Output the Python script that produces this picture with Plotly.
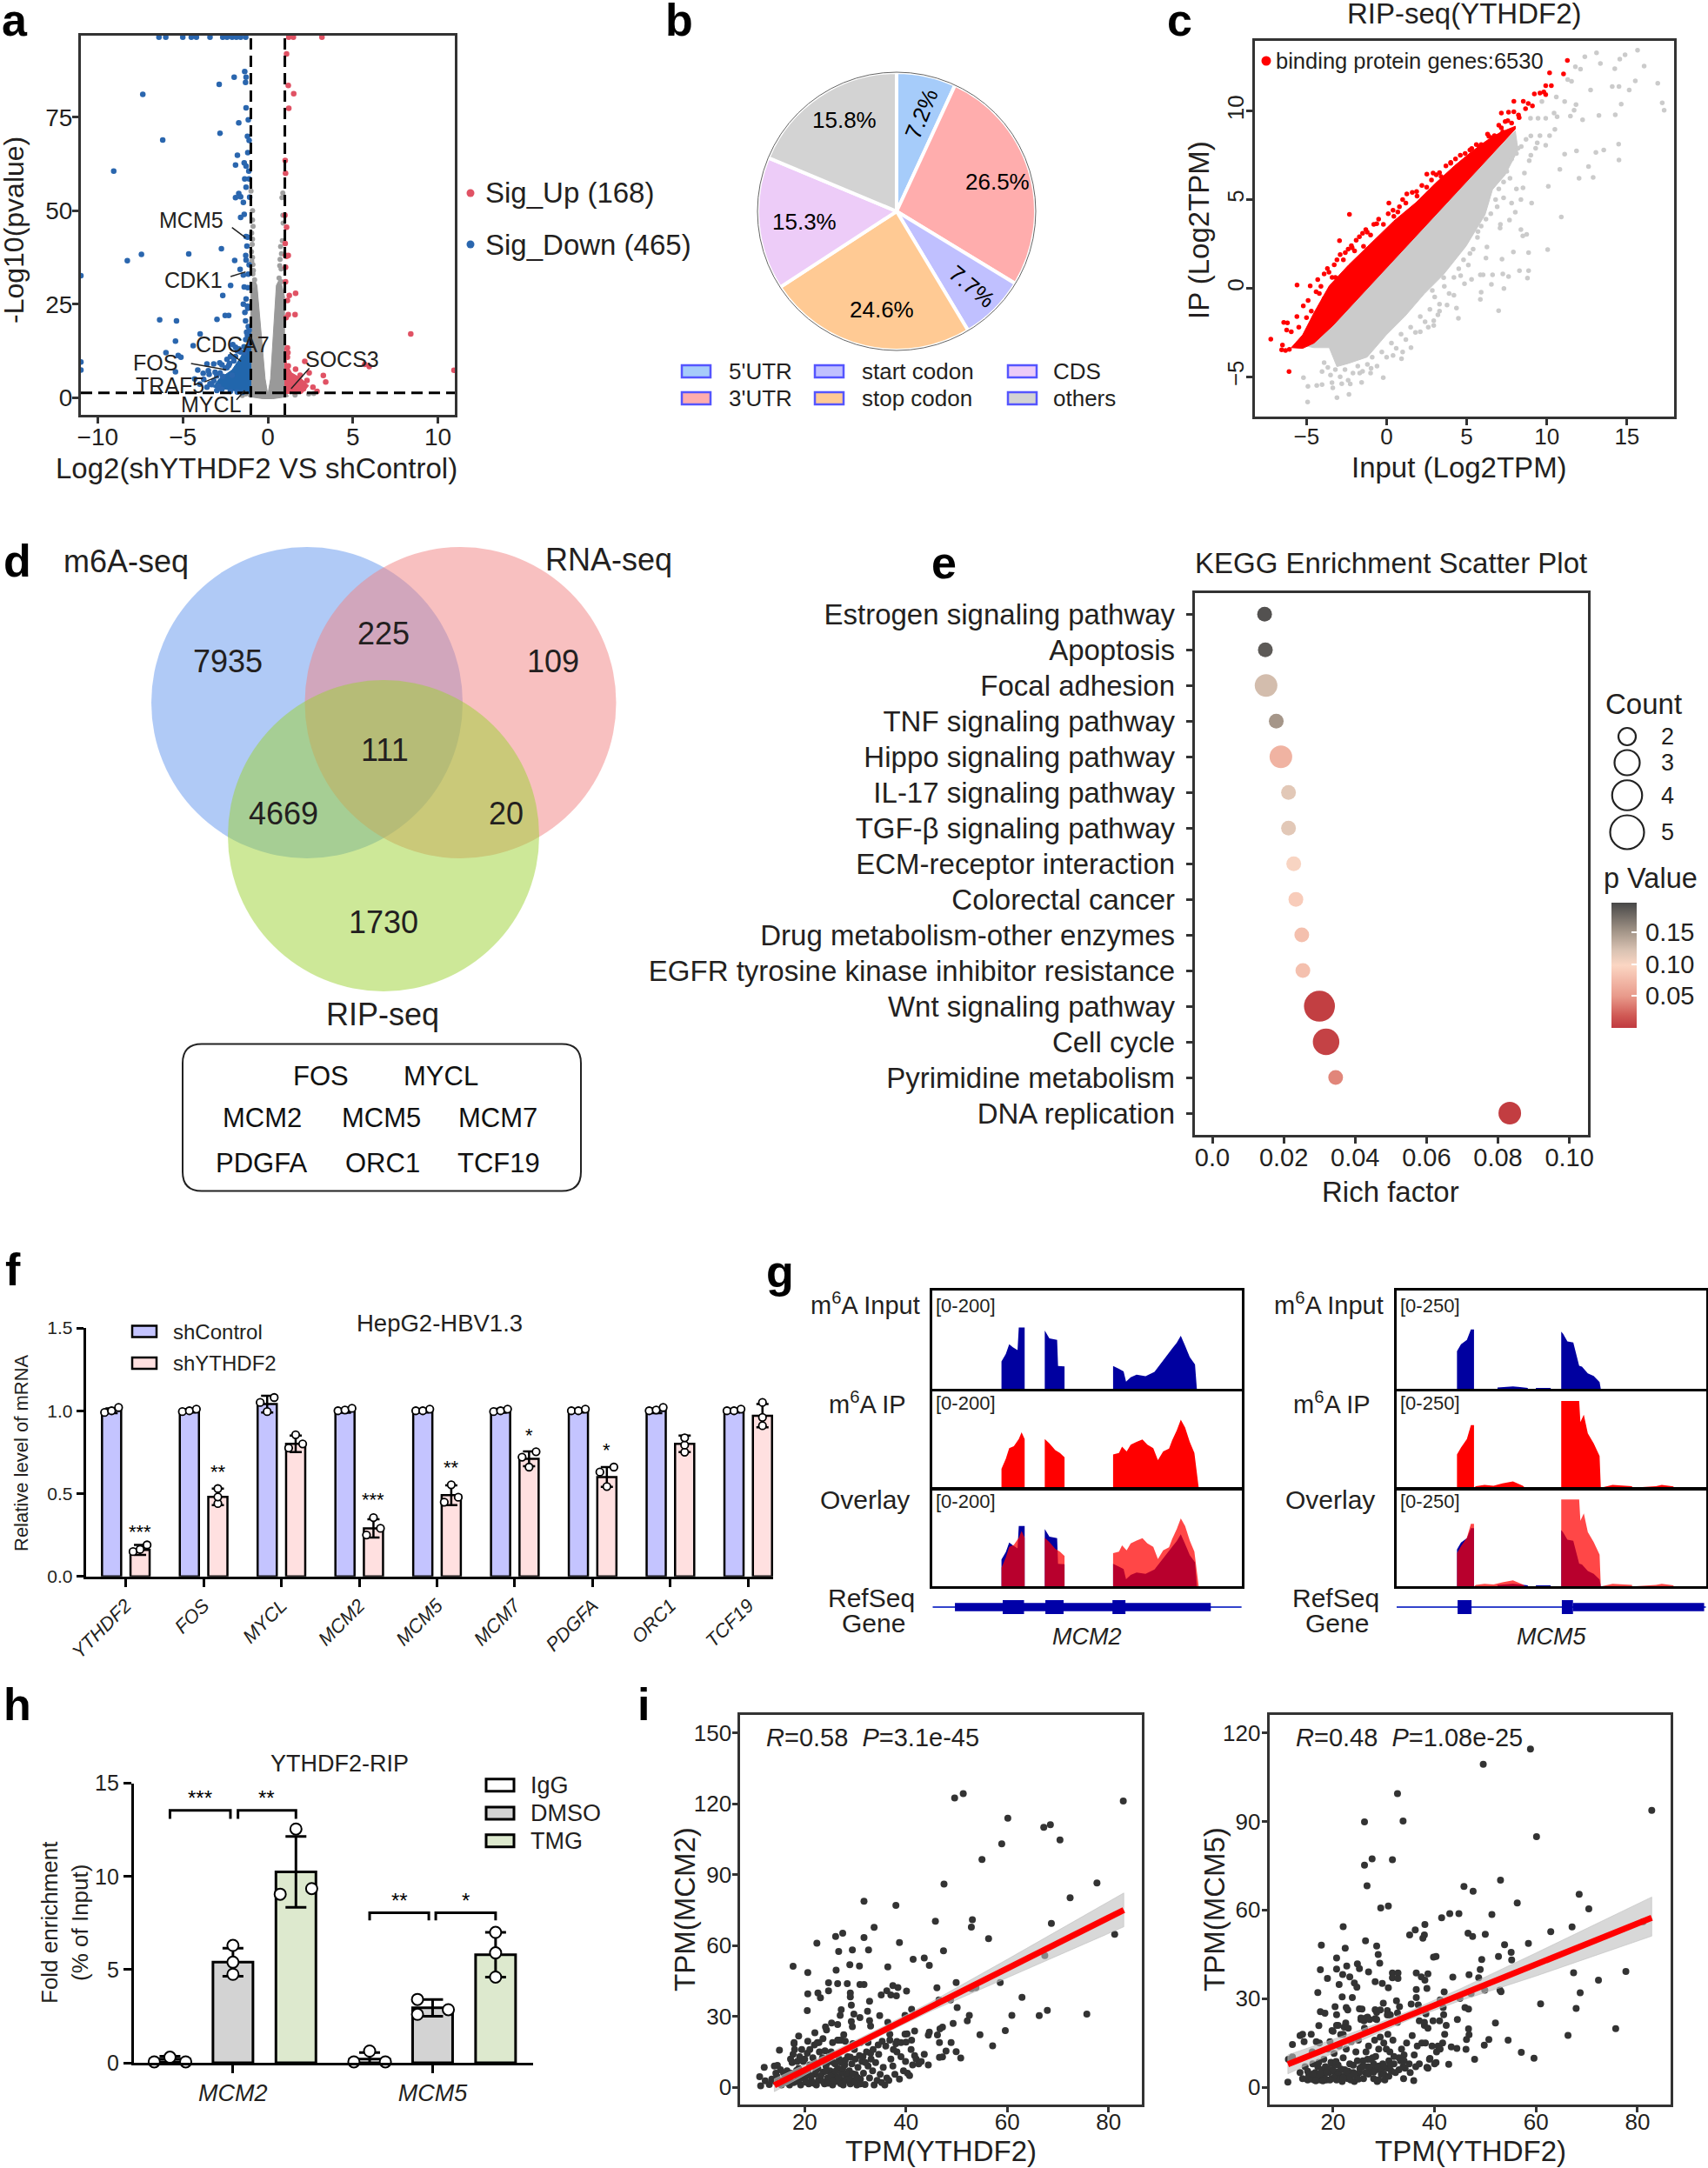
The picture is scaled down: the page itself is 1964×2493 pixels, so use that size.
import plotly.graph_objects as go

W, H = 1964, 2493
FONT = "Liberation Sans"
INK = "#231f20"
FRAME = "#333333"

# ---------- panel a ----------
a_blue = [(-1.36,87.2),(-1.98,85.7),(-1.28,85.7),(-1.31,84.3),(-2.86,83.8),(-7.35,81.1),(-1.28,77.5),(-1.15,74.3),(-1.71,73.5),(-2.81,70.7),(-1.2,69.9),(-1.1,68.8),(-6.18,68.9),(-1.18,65.5),(-1.79,64.8),(-9.06,60.6),(-1.9,62.2),(-1.39,62.8),(-1.28,61.9),(-1.12,60.6),(-1.36,58.5),(-1.1,58.5),(-1.28,56.3),(-1.71,54.6),(-1.9,53.5),(-1.6,53.7),(-1.07,53.6),(-1.44,52.2),(-1.39,49),(-1.6,48.2),(-1.28,43.1),(-1.18,42.9),(-1.23,40.5),(-2.73,39.8),(-4.65,38.4),(-7.43,38.3),(-8.26,36.6),(-1.95,36.7),(-1.28,36.8),(-1.1,35.5),(-1.63,34.3),(-1.44,32.8),(-10.99,32.6),(-2.19,30),(-1.39,29.6),(-1.18,29.4),(-2.65,27.3),(-1.28,26.4),(-1.44,25),(-1.18,23.9),(-2.51,22),(-2.3,22),(-2.99,20.9),(-6.36,20.8),(-5.37,20.5),(-1.31,20.5),(-3.98,17),(-1.1,16.7),(-5.43,15.1),(-4.39,13.9),(-2.06,14.2),(-5.99,12),(-5.27,11.3),(-5.11,10.8),(-10.99,9.5),(-10.99,7.4),(-3.58,9),(-2.83,9.3),(-3.18,9),(-5.43,6.9),(-4.12,7.4),(-2.25,9.1),(-3.45,6.2),(-3.77,4.9),(-3.58,2.8),(-3.18,4.5),(-2.65,5.7),(-6.4,96.4),(-6.0,96.4),(-5.0,96.4),(-4.5,96.4),(-4.2,96.4),(-3.4,96.4),(-2.65,96.4),(-2.4,96.4),(-2.1,96.4),(-1.85,96.4),(-1.6,96.4),(-1.3,96.4),(-1.15,33),(-1.3,38),(-1.2,24.5),(-1.35,22.8),(-1.15,19),(-1.25,17.5),(-1.4,12),(-1.8,12.5),(-2.4,8),(-2.1,6),(-3.3,3.5),(-2.9,3.1),(-1.7,13),(-3.4,3.7),(-3.0,5.8),(-2.8,6.6),(-2.5,7.9),(-2.3,8.6),(-2,9.8),(-1.9,11),(-1.6,12.2),(-1.4,13.6),(-1.3,15.5),(-1.2,16.6),(-1.1,18),(-4.0,3.6),(-4.3,5),(-3.8,6.5),(-3.5,7.2),(-3.1,6.8),(-2.7,8.8),(-2.4,10.2),(-2.2,11),(-1.9,13.5),(-2.7,2.2),(-3.0,1.9),(-2.2,1.7),(-1.8,1.5),(-1.5,1.4)]
a_red = [(1.23,96.4),(1.5,96.4),(3.18,96.4),(1.1,91.9),(1.2,83.5),(1.52,81.3),(1.23,77.4),(1.02,63.4),(1.04,60),(1.0,48.8),(1.1,45.6),(1.02,41.2),(1.04,38),(1.1,37.8),(1.2,38),(1.04,34.9),(1.04,31),(1.63,27.9),(1.26,27.3),(1.15,26),(1.6,22.2),(1.2,22.2),(1.07,21.4),(8.4,17),(5.7,8.9),(5.96,8.3),(10.94,7.3),(2.17,9.7),(1.15,13.3),(1.18,12),(1.15,10.8),(3.26,5.9),(3.4,4.2),(2.43,6.6),(1.63,7.6),(2.65,2.8),(2.89,1.7),(1.2,8.5),(1.1,7),(1.9,6),(2.3,4.6),(2.1,2.4),(1.6,1.6)]
a_gray = [(-0.99,55.2),(-0.9,50),(-0.9,47.5),(-0.87,45.8),(-0.9,42.4),(-0.96,39),(-0.88,35.6),(-0.88,33.1),(-0.78,31.5),(-0.9,30),(-0.95,36.5),(-0.9,37.5),(-0.85,34),(-0.95,44),(-0.92,41),(0.88,54.7),(0.83,53.5),(0.88,48.8),(0.9,46.7),(0.75,40.4),(0.7,35.3),(0.78,34.4),(0.8,31),(0.66,32),(0.72,37),(0.8,38.5),(0.85,42),(2.4,1.0),(2.7,1.1),(1.6,0.7),(-1.5,0.6),(-1.3,1)]
a_gray_region_x = [-1.15,-1.0,-1.0,-0.82,-0.64,-0.37,-0.16,-0.03,0.03,0.16,0.3,0.5,0.72,0.98,0.98,1.2,0.3,-0.3]
a_gray_region_y = [0.3,3,29,32,30,15,5,1.5,1.5,5,15,30,32,27,3,0.3,-0.3,-0.3]
a_blue_region_x = [-1,-3.2,-2.9,-2.1,-1.6,-1.2,-1]
a_blue_region_y = [1.1,2.8,4.9,7.4,10.8,14.2,16.7]
a_red_region_x = [1,2,2.4,1.9,1.4,1.1,1]
a_red_region_y = [1.1,1.1,3.2,5.3,6.6,9.1,13.3]
a_fc_cut = [-1, 1]
a_p_cut = 1.3

# ---------- panel b ----------
b_labels = ["5'UTR","3'UTR","start codon","stop codon","CDS","others"]
b_values = [6.9,26.8,7.7,24.4,15.5,18.7]
b_colors = ["#A6CCFA","#FFADAD","#C0C0FF","#FFCA94","#EDCCF8","#D3D3D3"]
b_text = ["7.2%","26.5%","7.7%","24.6%","15.3%","15.8%"]

# ---------- panel c ----------
c_red_x = [-5.95,-5.24,-4.53,-3.58,-2.39,-0.97,0.45,1.87,3.06,4.24,5.31,6.26,7.09,8.03,8.03,6.85,5.43,3.29,1.4,-0.5,-2.39,-3.34,-4.53,-5.24]
c_red_y = [-3.36,-2.64,-1.39,0.13,1.29,2.54,3.79,4.86,5.93,6.91,7.71,8.34,8.79,9.14,8.98,7.83,6.44,4.36,2.52,0.67,-1.17,-2.1,-3.1,-3.4]
c_gray_x = [-5,8.03,8.2,7.4,6.61,6.14,4.95,3.53,2.35,1.16,-0.02,-1.21,-2.39,-3.1,-3.58,-4.53]
c_gray_y = [-3.27,8.88,7.8,6.4,5.57,4.14,2.36,0.75,-0.32,-1.57,-2.64,-3.89,-4.25,-4.43,-3.36,-3.36]
c_red_pts = [(-7.23,-2.88),(-6.09,-4.71),(-5.59,0.18),(-2.32,4.16),(0.14,4.8),(-2.94,2.68),(1.26,5.32),(-0.62,3.64),(2.51,6.43),(11.28,12.86),(10.17,12.16),(11.04,12.09),(9.93,11.43),(10.28,11.43),(9.22,10.96),(9.57,11.02),(9.81,11.07),(9.93,10.93),(7.94,10.55),(8.53,10.55),(8.84,10.43),(9.1,10.29),(8.67,10.13),(7.16,9.89),(7.61,9.93),(7.94,9.96),(8.23,9.77),(8.27,9.63),(7.4,9.41),(7.56,9.46),(7.8,9.32),(7.16,9.05),(7.25,8.82),(6.73,8.61),(6.38,8.57),(-6.42,-1.93),(-6.19,-1.96),(-6.24,-2.37),(-5.95,-2.46),(-5.48,-2.2),(-5.0,-1.66),(-4.77,0.13),(-4.3,0.48),(-3.7,1.11),(-3.27,1.32),(-2.58,2),(-2.15,2.27),(-1.44,2.36),(-1.21,3.16),(0.45,4.05),(1.87,5.45),(3.3,6.52),(4.0,7.05),(5.31,7.89),(5.78,7.98),(-6.55,-3.48),(-6.5,-3.21),(-6.31,-3.52),(-6.07,-3.46),(-4.2,-0.3),(-3.9,-0.6),(-3.2,0.6),(-1.9,2.7),(0.8,4.6),(2.9,6.5),(-4.9,-2.4),(-5.5,-3.1),
(-5.6,-1.6),(-5.2,-1.0),(-4.9,-0.7),(-4.7,-1.3),(-4.4,-0.2),(-4.1,0.1),(-3.9,0.8),(-3.6,0.9),(-3.4,0.6),(-3.1,1.6),(-2.9,1.9),(-2.7,1.6),(-2.4,2.2),(-2.2,2.4),(-2,2.1),(-1.7,2.9),(-1.5,3.1),(-1.3,3.3),(-1,3.0),(-0.8,3.6),(-0.5,3.9),(-0.2,3.6),(0.1,4.2),(0.4,4.4),(0.7,4.3),(1,5),(1.2,4.8),(1.6,5.4),(1.9,5.2),(2.2,5.8),(2.5,5.7),(2.8,6.1),(3.1,6.4),(3.4,6.3),(3.7,6.9),(4,7.1),(4.3,7.3),(4.6,7.5),(4.9,7.6),(5.2,7.8),(5.6,8.1),(5.9,8.1),(6.3,8.7),(6.6,8.5),(7,9.2),
(-5.0,-2.9),(-4.4,-2.1),(-4.0,-1.9),(-3.5,-1.6),(-5.6,-3.2)]
c_gray_pts = [(15.66,13.43),(13.1,13.29),(12.37,13.07),(14.55,12.93),(14.88,13.18),(13.34,12.68),(11.78,12.5),(12.1,12.36),(14.24,12.39),(16.07,12.54),(11.3,11.77),(11.54,11.68),(15.52,11.7),(16.92,11.57),(14.08,11.38),(14.5,11.38),(15.14,11.18),(12.73,11.18),(10.59,10.79),(17.2,10.46),(17.32,10.04),(14.64,10.39),(11.82,10.36),(11.11,10.54),(9.69,10.54),(11.7,10.04),(11.47,9.71),(10.45,9.89),(12.23,9.5),(13.25,9.75),(14.27,9.79),(10.64,9.68),(9.93,9.59),(9.45,9.59),(8.98,9.59),(10.5,8.96),(9.57,8.61),(10.17,8.61),(14.48,8.13),(9.93,8.07),(13.55,7.8),(13.06,7.66),(11.85,7.75),(11.11,7.57),(14.5,7.23),(12.6,6.86),(12.89,6.25),(12.01,6.2),(10.81,6.7),(10.09,5.75),(8.51,5.66),(9.05,4.8),(10.9,4.02),(10.05,2.18),(8.86,2),(7.91,2.04),(7.2,1.64),(8.29,0.98),(8.86,0.98),(8.79,0.57),(7.25,0.8),(7.61,0.66),(6.61,0.75),(5.85,0.75),(6.02,0.75),(6.54,0.21),(7.32,-0.02),(5.9,-0.23),(5.85,-0.64),(6.99,-1.27),(4.48,-1.7),(4.36,-1.13),(3.77,-0.95),(3.3,-1.3),(2.94,-1.84),(2.94,-2.11),(2.1,-2.46),(1.52,-3.36),(0.93,-3.98),(-0.21,-5.05),(-0.97,-4.52),(-1.68,-4.79),(-1.56,-5.32),(-2.27,-5.41),(-2.35,-6),(-3.1,-6.18),(-4.93,-6.43),(-4.91,-5.54),(-5.19,-5.05),(-4.36,-5.5),(-4.03,-5.45),(-3.41,-5.34),(-3.36,-5.63),(-4.03,-4.71),(-3.67,-4.48),(8.38,5.0),(8.03,4.29),(7.67,3.84),(7.08,3.39),(8.38,3.3),(8.74,3.04),(8.5,2.95),(5.67,2.86),(6.26,2.32),(5.2,1.96),(4.62,0.7),(4.86,0.25),(3.56,0.59),(2.85,-0.13),(9.0,7.5),(9.4,8.2),(8.6,6.5),(8.2,7.9),(7.7,6.2),(7.3,5.1),(6.9,4.6),
(-3.9,-4.2),(-3.5,-4.9),(-3.2,-4.6),(-2.9,-5.0),(-2.6,-4.6),(-2.4,-5.2),(-2.1,-4.8),(-1.8,-4.4),(-1.5,-4.7),(-1.2,-4.3),(-0.9,-3.9),(-0.6,-4.4),(-0.3,-3.6),(0,-3.9),(0.3,-3.1),(0.6,-3.4),(0.9,-2.6),(1.2,-2.9),(1.5,-2.2),(1.8,-2.5),(2.1,-1.6),(2.4,-1.9),(2.7,-1.2),(3,-0.5),(3.3,-0.9),(3.6,0.1),(3.9,-0.3),(4.2,0.6),(4.5,1.1),(4.8,1.6),(5.1,1.3),(5.4,2.2),(5.7,3.2),(5.9,3.5),(6.2,3.9),(6.5,4.2),(6.8,5),(7,5.6),(7.3,6),(7.5,6.6),(7.8,7.3),(8.1,7.6),(8.4,8.0),(8.7,8.4),(9,8.6),(8.9,7.2),(9.3,7.9),(3.2,-1.5),(2.6,-2.2),(1.0,-3.6),(-1.0,-4.8),(-2.8,-5.4),(0.4,-3.8),(4.2,-0.4),(5.3,0.5),(6.2,1.7),(7.1,3.6),(7.8,4.8),(8.1,5.6)]

# ---------- panel d ----------
d_counts = ["7935","225","109","111","4669","20","1730"]
d_sets = ["m6A-seq","RNA-seq","RIP-seq"]
d_genes = ["FOS","MYCL","MCM2","MCM5","MCM7","PDGFA","ORC1","TCF19"]

# ---------- panel e ----------
e_terms = ["Estrogen signaling pathway","Apoptosis","Focal adhesion","TNF signaling pathway","Hippo signaling pathway","IL-17 signaling pathway","TGF-β signaling pathway","ECM-receptor interaction","Colorectal cancer","Drug metabolism-other enzymes","EGFR tyrosine kinase inhibitor resistance","Wnt signaling pathway","Cell cycle","Pyrimidine metabolism","DNA replication"]
e_rich = [0.01464,0.01485,0.01505,0.0179,0.0192,0.02134,0.02134,0.0228,0.0234,0.02505,0.02536,0.0300,0.03186,0.03454,0.0833]
e_count = [2,2,3,2,3,2,2,2,2,2,2,5,4,2,3]
e_pval = [0.19,0.185,0.125,0.15,0.07,0.115,0.115,0.10,0.09,0.08,0.08,0.003,0.005,0.04,0.002]
e_size_by_count = {2:17,3:26,4:30.5,5:35.6}

# ---------- panel f ----------
f_genes = ["YTHDF2","FOS","MYCL","MCM2","MCM5","MCM7","PDGFA","ORC1","TCF19"]
f_ctrl = [1.0,1.0,1.04,1.0,1.0,1.0,1.0,1.0,1.0]
f_sh = [0.16,0.48,0.80,0.29,0.49,0.71,0.60,0.80,0.97]
f_ctrl_err = [0.015,0.01,0.05,0.012,0.01,0.012,0.01,0.015,0.01]
f_sh_err = [0.03,0.05,0.05,0.055,0.06,0.045,0.06,0.05,0.07]
f_ctrl_dots = [[0.99,1.0,1.02],[0.995,1.0,1.01],[1.05,0.995,1.08],[1.0,1.005,1.015],[1.0,1.0,1.01],[0.995,1.0,1.01],[1.0,1.0,1.01],[1.0,1.005,1.02],[1.0,1.0,1.01]]
f_sh_dots = [[0.15,0.163,0.19],[0.44,0.48,0.53],[0.775,0.855,0.80],[0.25,0.355,0.29],[0.448,0.553,0.478],[0.72,0.66,0.753],[0.63,0.543,0.66],[0.75,0.793,0.837],[0.91,0.96,1.05]]
f_stars = ["***","**","","***","**","*","*","",""]
f_star_y = [0.20,0.56,0,0.39,0.585,0.78,0.69,0,0]

# ---------- panel g ----------
mcm2_input_x = [22.3,22.3,23.7,24.8,26,27.5,27.9,29.8,29.8,36.3,36.3,37.8,40.3,40.6,42.7,42.7,58.4,58.4,60.3,61.8,62.6,64.1,66,68.9,71.8,74.6,77.5,79,80.3,81.7,83.2,84.9,85.5]
mcm2_input_y = [0,56,71,91,85,79,125,125,0,0,119,103,100,47,46,0,0,47,41,36,15,24,29,26,35,59,82,94,108,88,65,50,0]
mcm2_ip_x = [22.3,22.3,23.7,24.8,26.3,27.9,28.8,29.8,29.8,36.3,36.3,37.8,39.7,41.2,42.7,42.7,58.4,58.4,60.3,61.3,62.8,64.1,66,67.9,69.5,71.4,72.9,74.6,76.5,77.5,79,80.3,81.7,83.2,84.7,85.7,86.1]
mcm2_ip_y = [0,39,60,82,86,101,115,101,0,0,101,92,78,72,63,0,0,69,72,85,75,89,95,100,89,82,57,75,81,98,119,141,125,95,72,19,0]
mcm5_input_x = [19.5,19.5,20.8,22.7,24,25,25,32.6,32.6,35.1,37.6,39.9,42.4,42.4,45,45,49.8,49.8,53.2,53.2,53.8,55.2,57.1,59,59.9,61.8,63.7,65.6,66]
mcm5_input_y = [0,96,114,125,151,151,0,0,4,5,7,5,3,0,0,3,3,0,0,146,140,121,118,59,57,40,33,18,0]
mcm5_ip_x = [19.5,19.5,20.8,22.7,24,25,25,25.6,28.4,31.3,34.2,37.6,40.8,41.5,53.2,53.2,59,59.4,60.5,61.8,63.7,65.6,66,69.8,76.1,76.1,83.8,85.7,89.5,89.5]
mcm5_ip_y = [0,86,104,126,162,162,0,4,7,5,11,16,5,0,0,225,225,170,189,141,115,82,0,7,4,0,4,7,3,0]
mcm2_exons = [22.7,29.6,36.5,42.4,58.2,62.4]
mcm2_utr = [7.25,90]
mcm5_exons = [19.7,24.2,53.4,57]
mcm5_utr = [57,99.4]

# ---------- panel h ----------
h_groups = ["MCM2","MCM5"]
h_labels = ["IgG","DMSO","TMG"]
h_colors = ["#FFFFFF","#D3D3D3","#DDE9CE"]
h_pos = [0,1,2,3.17,4.17,5.17]
h_vals = [0.2,5.4,10.25,0.2,2.95,5.8]
h_err = [0.15,0.75,1.9,0.35,0.45,1.2]
h_dots = [[0.05,0.3,0.05],[6.3,5.4,4.75],[12.55,9.05,9.35],[0.05,0.63,0.05],[3.4,2.6,2.85],[7.0,5.9,4.6]]
h_dot_dx = [[-0.25,0,0.25],[0,0,0],[0,-0.25,0.25],[-0.25,0,0.25],[-0.24,-0.24,0.25],[0,0,0]]

# ---------- panel i ----------
i1_pts = [(49.6,122.5),(51.3,124.4),(82.9,121.2),(60.1,114),(67.2,110.1),(68.5,111.2),(70.4,104.8),(58.9,103.1),(55,96.5),(47.5,86.1),(77.7,86.5),(72.4,80.3),(31.7,78.8),(38,77.1),(53.1,71),(45.8,70.3),(68.7,69.4),(52.9,67.9),(33.7,67.8),(27.5,65.3),(26.1,63.9),(31.7,63.4),(56.3,63),(81.2,64.8),(22.4,61),(38.7,61.3),(29.4,58.2),(32.6,58.2),(26.7,57.5),(47.4,57.8),(67.4,55.8),(41.4,54.2),(43.6,54.8),(44.6,51.7),(17.7,51.3),(28.9,51.9),(30.8,51.4),(36.4,51),(26.2,49.6),(20.6,48.6),(24.7,44.3),(26.5,43.9),(28.4,43.9),(30.9,43.6),(31.7,43.6),(49.9,44.4),(58.6,44.4),(37.4,43.1),(38.4,42.3),(46.1,42.2),(52.9,41.8),(53.8,42.2),(24.7,40.9),(22.6,40),(29,40),(36.2,40.9),(40.1,40.8),(20.6,39.6),(35.1,39.1),(37,39.1),(38.1,38.8),(29,38.3),(23.1,37.9),(62.9,38.1),(48.8,37),(32.8,36.5),(46.5,37),(29.2,34.8),(50.1,33.8),(41.1,33.1),(27.2,32.9),(20.5,32.5),(32.4,32.2),(67.9,32.6),(75.7,31),(29.7,31),(27,30.5),(34.8,30.4),(39.8,30.5),(52.5,30.5),(60.9,30.5),(66.3,30.4),(30.9,29.6),(32.8,28.3),(36.4,27.5),(29.2,27.9),(25.3,27.3),(52.1,28.2),(49.3,27.1),(26.5,26.6),(29.4,25.7),(33,26),(24.1,25.6),(47.2,25.5),(46.7,24.8),(24.3,24.3),(41.7,23.9),(22,23.1),(59.6,24),(44.6,23.4),(54.6,22.3),(36.8,22.5),(39.8,22.6),(40.2,22.7),(44.4,22.1),(46.2,22.2),(18.8,21.7),(27.7,22.3),(23.6,20.6),(35.3,19.5),(38.2,19.4),(26.5,20),(27.2,20),(41.1,20),(46.6,19),(48.9,19),(17.9,19),(20.6,19.5),(22.8,19),(57.1,17.6),(49.9,15.1),(47.9,15.4),(50.8,12.4),(46.6,12.7),(47.2,12.9),
(11.1,4.5),(11.3,0.7),(12,8.5),(12.2,2.8),(13.5,3.5),(13,1.2),(14,9),(14.3,6),(14.6,9.3),(14.2,2.5),(14.5,4.7),(15,15.8),(15.2,7.5),(15.6,3),(15.4,1),(16,5.5),(16.2,2),(16.5,7),(16.8,3.5),(17,1),(17.2,12),(17.5,10.5),(17.7,14),(17.9,18.5),(18,16),(18.2,5),(18.5,2.5),(18.8,8),(19,13),(19.2,1),(19.4,16),(19.7,11),(20,4),(20.3,7),(20.5,14.5),(20.8,1.5),(21,9.5),(21.3,3),(21.6,12.5),(21.9,18),(22,5.5),(22.3,1),(22.6,8),(22.9,15),(23,3.5),(23.3,11),(23.6,6.5),(23.9,1.5),(24.2,9),(24.5,4),(24.8,13),(25,7),(25.2,15),(25.5,1),(25.7,10.5),(26,5),(26.2,2.5),(26.5,8),(26.8,12),(27,3.5),(27.3,6),(27.6,1),(27.9,9.5),(28.2,4.5),(28.5,13),(28.8,7),(29,1.5),(29.3,10),(29.5,3),(29.8,16),(30,5.5),(30.3,1),(30.5,8.5),(30.8,13.5),(31,3.5),(31.3,11),(31.6,6),(31.9,1.2),(32.2,15),(32.5,9),(32.8,4),(33.1,12),(33.4,7),(33.7,1),(34,10.5),(34.3,3),(34.6,14),(34.9,5.5),(35.2,2),(35.5,8.5),(35.8,1),(36.2,4),(36.6,3),(37,12),(37.4,9),(37.8,5.5),(38.2,15),(38.7,3.5),(39,13),(39.5,7),(39.9,11),(40.3,6),(40.7,5),(41,16),(41.3,9.5),(41.7,13.5),(42,12),(42.5,10),(43,11),(43.6,14),(44.4,9.5),
(15.8,6.2),(16.4,4.2),(17.3,6),(17.8,2),(18.4,7.2),(19,3.5),(19.6,5.8),(20.2,2.2),(20.7,6.2),(21.2,4.8),(21.8,1.8),(22.2,7),(22.7,3),(23.2,5),(23.7,2.3),(24.1,6.8),(24.6,1.8),(25.1,4.8),(25.6,3),(26.1,6.8),(26.6,4.2),(27.1,1.6),(27.5,7.8),(28,2.8),(28.4,6),(28.9,3.5),(29.4,5.8),(29.9,2.2),(30.4,4.2),(31,1.5),(22,10.5),(23.5,12.5),(24.5,10.5),(26,10),(27.2,10.5),(28,11.5),(29,12.8),(30,12),(31.5,13),(32,10.5),(33,14.5),(18.5,11),(20,12),(21,16),(22.5,19),(24,15.5),(25.5,19),(26.7,20),(28,19.5),(29.5,18.5),(31,19),(32.5,19),(33.5,16),(34.5,18),(36,17.5),(36.8,20),(37.5,16),(38,18.5),(39,19),(40,19.2)]
i1_fit_x = [14,83]
i1_fit_y = [0.9,75.1]
i1_band_x = [14,25,35,45,60,83,83,60,45,35,25,14]
i1_band_y = [3.6,14.6,25.2,36.2,54.2,82.3,68,46.6,32.4,22,11,-1.8]

i2_pts = [(58.9,114.5),(49.6,109.3),(32.7,99.4),(82.8,93.7),(26.2,89.8),(33.8,90.1),(60.1,84.8),(27.7,77.3),(31.7,77),(26.2,75.2),(26.7,68.2),(45.8,68),(47.6,66.4),(53,70.1),(68.5,65.3),(56.3,62.4),(29.4,60.7),(30.9,61.4),(70.4,60.4),(51.3,58.5),(43,58.8),(44.8,58.8),(41.4,57.4),(81.1,56.1),(22,54.4),(38.1,55.1),(36.2,53.3),(35.1,51.6),(46.6,52.2),(47.5,51.1),(50,51.8),(38,51.6),(37.7,50.5),(62.9,52.7),(67.1,54.3),(26.4,49.6),(17.7,48.1),(22.4,47.1),(28.6,47.8),(53.8,48.3),(58.5,48.7),(55.1,45.7),(28.9,45),(52.6,44.3),(20.7,43.8),(39.8,44.1),(40.3,44.3),(49.3,43.3),(55.2,43.1),(29.2,42),(24.8,41.8),(22.7,41.1),(25.2,40.2),(20.7,40),(17.5,39.8),(49,39.9),(27,39.1),(67.4,38.8),(77.7,39.2),(31.7,38.7),(32.8,38.7),(36.4,38.7),(38.7,38.4),(21.9,38.2),(46.8,38.1),(37.4,37.4),(23.3,37.4),(43.6,37.3),(48.7,37.1),(18.9,36.9),(31.7,37.1),(32.8,36.9),(38.1,36.3),(72.3,36.3),(28.3,35.8),(29.7,35.2),(24.2,35.3),(21.2,34.8),(24.7,33.9),(30.9,33.7),(36.4,33.1),(38.5,33.5),(49.9,32.9),(52.9,32.9),(53.1,32.4),(17,32.1),(41.9,32.3),(68.7,32),(47.2,31.7),(21.8,30.6),(23.8,30.4),(36.4,30.4),(45,30.1),(41.1,29.6),(32.5,29.3),(29.9,28.5),(60.9,28.3),(35.4,28.2),(36.8,27.9),(20.4,27.3),(33.1,27.3),(22.6,27),(22.9,26.2),(25.2,26.6),(25.7,26.5),(46,27),(46.7,26.5),(67.9,26.7),(41.7,27),(28.3,26.3),(29.3,26.2),(28.6,25.4),(17.5,25.6),(18.4,25.1),(30.7,26),(30.9,24.9),(32.7,25.2),(20.7,24.6),(38.3,24.9),(41.8,24.6),(25.5,23.5),(26.5,23.5),(26.8,23.8),(26.1,22.5),(28.3,23.3),(28.6,23),(30.7,24.5),(31.3,24.5),(37,22.5),(38,21),(38.7,20),(39.7,22.5),(41,22.5),(42.3,21),(44.5,23),(52,21.8),(75.7,19.9),(17.2,20.9),(20.7,21),(19.8,19.2),(22.5,21.8),(22.2,20.4),(21.5,17.9),(46.7,19.8),(46.8,17.8),(46.3,16.2),(50.7,16.2),(49.8,14.3),(54.5,16),(66.3,17.6),(57.1,11.9),(59.6,9.9),(47.9,9.5),(46.2,12.9),(44.4,13.2),(43.3,13.7),(42.8,7.8),(40.3,8.4),(39.1,9.8),(38.5,6.8),(35.9,2.3),(33.9,3),
(11.1,1.8),(11.2,9.5),(12,14.5),(12,10.3),(13.5,17.5),(14,18),(14.3,15.5),(13.5,5),(14,3),(14.5,7),(15,2.5),(15,5.5),(15.5,3.5),(15.7,18),(15.9,12),(16,8),(16.3,2.5),(16.5,5),(16.7,15.5),(17,7),(17,3),(17.3,15),(17.5,2.5),(17.8,6),(18,4),(18.2,9.5),(18.5,7),(18.7,2.5),(19,13),(19.2,5),(19.4,15.5),(19.7,3),(20,19),(20,8),(20.2,11.5),(20.4,5),(20.7,2.5),(21,21),(21,7.5),(21.2,14),(21.5,4),(21.8,2),(22,10),(22,18),(22.3,6),(22.6,13),(22.9,3),(23,20),(23.3,8),(23.6,15.5),(24,5),(24.2,2),(24.5,12),(24.8,9),(25,16),(25.2,5),(25.5,23),(25.7,7),(26,3),(26.2,20),(26.5,12),(26.8,9.5),(27,14),(27.2,23),(27.5,6),(27.8,10),(28,3),(28.2,16),(28.5,6),(28.7,2),(29,13),(29.3,17),(29.5,4.5),(29.8,8),(30,15),(30.2,2.5),(30.5,13),(30.8,18),(31,9),(31.2,12),(31.5,5.5),(31.8,16),(32,8),(32.3,5),(32.7,22),(33,10),(33.3,9),(33.5,13),(33.8,7),(34,11),(34.2,6.5),(34.5,15),(35,8),(35.2,5),(35.6,17.5),(36,11),(36.3,7),(36.6,14),(37,8),(37.5,15),(38,22),(38.2,15),(38.7,6.5),(39,9.5),(39.5,14),(40,8),(40.4,12),(40.7,14),(41.1,13),(41.6,15),(42,18),
(15.2,4),(15.8,2.8),(16.8,3.8),(17.6,4.8),(18.4,3),(19,6.5),(19.6,8.5),(20.3,3.5),(21,5.2),(21.6,6.2),(22.4,4),(23,5.5),(23.5,2.5),(24,7.5),(24.7,3.5),(25.3,6.5),(25.9,9),(26.4,5),(26.9,7),(27.4,9.5),(28,8),(28.4,10.5),(29,7.2),(29.6,6),(30,4.5),(30.7,6.5),(31.3,7.5),(32,10.5),(33,6),(34,9),(16,4.5),(16.6,2.2),(17.2,8.5),(18,2.2),(18.8,5),(19.4,2.5),(20,6),(20.6,8.8),(21.3,2.8),(22,3.2),(22.7,5.2),(23.3,3.4),(24.2,4.4),(25,2.8),(26,7.2),(27,4.5),(28,5.2),(29,2.6),(30,7.4),(31,3.8)]
i2_fit_x = [11.1,82.8]
i2_fit_y = [7.8,57.4]
i2_band_x = [11.1,25,35,45,60,82.8,82.8,60,45,35,25,11.1]
i2_band_y = [11,19.2,25.8,33.3,45.5,64.4,51.2,37.7,29.3,22.9,15.5,4.6]

# ---------- helpers ----------
fig = go.Figure()
annos, shapes, layout_axes = [], [], {}
n_axes = 0

def T(x, y, text, size=26, color=INK, angle=0, anchor="center", bold=False, valign="middle"):
    annos.append(dict(x=x/W, y=1-y/H, xref="paper", yref="paper", text=("<b>%s</b>" % text) if bold else text,
                      showarrow=False, font=dict(size=size, color=color, family=FONT), textangle=angle,
                      xanchor=anchor, yanchor=valign, borderpad=0, borderwidth=0))

def seg(x0, y0, x1, y1, color="#222222", w=1.5):
    shapes.append(dict(type="line", xref="paper", yref="paper", x0=x0/W, x1=x1/W, y0=1-y0/H, y1=1-y1/H,
                       line=dict(color=color, width=w)))

def box(x0, y0, x1, y1, fill, line="black", w=2.5):
    shapes.append(dict(type="rect", xref="paper", yref="paper", x0=x0/W, x1=x1/W, y0=1-y0/H, y1=1-y1/H,
                       fillcolor=fill, line=dict(color=line, width=w)))

def circ(cx, cy, r, fill="rgba(0,0,0,0)", line="rgba(0,0,0,0)", w=0):
    shapes.append(dict(type="circle", xref="paper", yref="paper", x0=(cx-r)/W, x1=(cx+r)/W,
                       y0=1-(cy+r)/H, y1=1-(cy-r)/H, fillcolor=fill, line=dict(color=line, width=w)))

def axes(l, r, t, b, xr, yr, xopt=None, yopt=None, framed=True, lw=3):
    global n_axes
    n_axes += 1
    s = "" if n_axes == 1 else str(n_axes)
    base = dict(showgrid=False, zeroline=False, showline=True, linecolor=FRAME if framed else "black",
                linewidth=lw, mirror=framed, ticks="outside", ticklen=7, tickwidth=2.5,
                tickcolor=FRAME if framed else "black",
                tickfont=dict(size=26, color=INK, family=FONT))
    xa = dict(base); xa.update(domain=[l/W, r/W], range=xr, anchor="y"+s); xa.update(xopt or {})
    ya = dict(base); ya.update(domain=[1-b/H, 1-t/H], range=yr, anchor="x"+s); ya.update(yopt or {})
    layout_axes["xaxis"+s] = xa
    layout_axes["yaxis"+s] = ya
    return dict(xaxis="x"+s, yaxis="y"+s)

def unz(pts):
    return [p[0] for p in pts], [p[1] for p in pts]

def dots(ax, pts, color, size, **kw):
    x, y = unz(pts)
    fig.add_trace(go.Scatter(x=x, y=y, mode="markers", marker=dict(color=color, size=size, line=dict(width=0)), **ax, **kw))

def region(ax, x, y, color):
    fig.add_trace(go.Scatter(x=x+x[:1], y=y+y[:1], mode="lines", fill="toself", fillcolor=color,
                             line=dict(width=1, color=color), **ax))

# panel letters
for ch, x, base in [("a",2,40),("b",765,40),("c",1342,40),("d",4,662),("e",1071,664),("f",6,1477),("g",881,1479),("h",4,1977),("i",733,1977)]:
    T(x, base-17, ch, size=52, color="black", anchor="left", bold=True)

# ---------- a ----------
TF28 = dict(size=28, color=INK, family=FONT)
ax = axes(93, 523, 41, 477, [-10.99,10.99], [-4.6,96.8],
          xopt=dict(tickvals=[-10,-5,0,5,10], tickfont=TF28, ticklabelstandoff=-9),
          yopt=dict(tickvals=[0,25,50,75], tickfont=TF28, ticklabelstandoff=-6))
region(ax, a_gray_region_x, a_gray_region_y, "#999999")
region(ax, a_blue_region_x, a_blue_region_y, "#2166ac")
region(ax, a_red_region_x, a_red_region_y, "#e05264")
dots(ax, a_gray, "#a0a0a0", 6)
dots(ax, a_blue, "#2a66ae", 6.5)
dots(ax, a_red, "#e05264", 6.5)
for cut in a_fc_cut:
    fig.add_trace(go.Scatter(x=[cut,cut], y=[-4.6,96.8], mode="lines", line=dict(color="black", width=3, dash="13px,7px"), **ax))
fig.add_trace(go.Scatter(x=[-10.99,10.99], y=[a_p_cut,a_p_cut], mode="lines", line=dict(color="black", width=3, dash="13px,7px"), **ax))
T(295, 539, "Log2(shYTHDF2 VS shControl)", 33)
T(16, 265, "-Log10(pvalue)", 32, angle=-90)
for t, x, y in [("MCM5",220,253),("CDK1",222,322),("CDCA7",267,396),("SOCS3",393,413),("FOS",178,417),("TRAF5",195,443),("MYCL",243,465)]:
    T(x, y, t, 25)
for z in [(510,720,540,752),(507,875,540,860),(505,1115,530,1143),(420,1150,497,1170),(450,1208,480,1190),(520,1265,538,1235),(680,1165,640,1230)]:
    seg(z[0]/1.912, z[1]/2.751, z[2]/1.912, z[3]/2.751)
circ(541, 222, 4.5, fill="#e05264")
circ(541, 281, 4.5, fill="#2a66ae")
T(558, 222, "Sig_Up (168)", 33, anchor="left")
T(558, 281, "Sig_Down (465)", 33, anchor="left")

# ---------- b ----------
PCX, PCY, PR = 1031, 243, 160
fig.add_trace(go.Pie(values=b_values, labels=b_labels, sort=False, direction="clockwise", rotation=0,
                     marker=dict(colors=b_colors, line=dict(color="white", width=4)), textinfo="none",
                     hole=0, domain=dict(x=[(PCX-PR)/W,(PCX+PR)/W], y=[1-(PCY+PR)/H,1-(PCY-PR)/H]),
                     showlegend=False))
circ(PCX, PCY, PR, line="#666666", w=1)
for txt, x, y, ang in zip(b_text, [1059.6,1146.5,1117,1014,925,970.7], [131,209,329,356,255,138], [-68,0,40,0,0,0]):
    T(x, y, txt, 26, color="black", angle=ang)
for i, (lab, col) in enumerate(zip(b_labels, b_colors)):
    col_i, row = i//2, i%2
    px0 = [784,937,1159][col_i]; tx = [837.5,990.7,1211][col_i]
    yy = [427,458][row]
    box(px0, yy-7, px0+33, yy+7, col, line="#5555ff", w=2.5)
    T(tx, yy, lab, 26, anchor="left")

# ---------- c ----------
ax = axes(1443, 1925, 47, 479, [-8.22,17.94], [-7.25,13.96],
          xopt=dict(tickvals=[-5,0,5,10,15], ticklabelstandoff=-9),
          yopt=dict(tickvals=[-5,0,5,10], tickangle=-90, ticklabelstandoff=-7))
region(ax, c_gray_x, c_gray_y, "#cbcbcb")
dots(ax, c_gray_pts, "#cbcbcb", 5.5)
region(ax, c_red_x, c_red_y, "#ff0000")
dots(ax, c_red_pts, "#ff0000", 5.5)
T(1684, 15, "RIP-seq(YTHDF2)", 33)
T(1678, 537, "Input (Log2TPM)", 33)
T(1378, 265, "IP (Log2TPM)", 33, angle=-90)
circ(1456, 70, 5.5, fill="#ff0000")
T(1467, 70, "binding protein genes:6530", 25.5, anchor="left")

# ---------- d ----------
circ(353, 808, 179, fill="rgba(97,149,237,0.5)")
circ(529.5, 808, 179, fill="rgba(241,129,129,0.5)")
circ(441, 961, 179, fill="rgba(155,209,49,0.5)")
for t, x, y in zip(d_counts, [262,441,636,442,326,582,441], [760,728,760,862,935,935,1060]):
    T(x, y, t, 36)
for t, x, y in zip(d_sets, [145,700,440], [645,644,1167]):
    T(x, y, t, 36)
bx0, by0, bx1, by1, rr = 210, 1200.5, 668, 1369.6, 22
px_ = lambda v: v/W
py_ = lambda v: 1-v/H
shapes.append(dict(type="path", xref="paper", yref="paper", line=dict(color="#222222", width=2),
    path=(f"M {px_(bx0+rr)} {py_(by0)} L {px_(bx1-rr)} {py_(by0)} Q {px_(bx1)} {py_(by0)} {px_(bx1)} {py_(by0+rr)} "
          f"L {px_(bx1)} {py_(by1-rr)} Q {px_(bx1)} {py_(by1)} {px_(bx1-rr)} {py_(by1)} "
          f"L {px_(bx0+rr)} {py_(by1)} Q {px_(bx0)} {py_(by1)} {px_(bx0)} {py_(by1-rr)} "
          f"L {px_(bx0)} {py_(by0+rr)} Q {px_(bx0)} {py_(by0)} {px_(bx0+rr)} {py_(by0)} Z")))
for t, x, y in zip(d_genes, [369,507,301,438,572,300,440,573], [1237,1237,1285,1285,1285,1337,1337,1337]):
    T(x, y, t, 31, color="#111111")

# ---------- e ----------
ax = axes(1373.7, 1826, 681.7, 1304.6, [-0.00495,0.1052], [14.6,-0.6],
          xopt=dict(tickvals=[0,0.02,0.04,0.06,0.08,0.10], ticktext=["0.0","0.02","0.04","0.06","0.08","0.10"],
                    ticklabelstandoff=-8, tickfont=dict(size=29, color=INK, family=FONT)),
          yopt=dict(tickvals=list(range(15)), ticktext=e_terms, ticklabelstandoff=6,
                    tickfont=dict(size=33, color=INK, family=FONT)))
e_scale = [[0,"#c03a3f"],[0.1,"#d05a55"],[0.25,"#e8998a"],[0.5,"#fbd6c3"],[0.62,"#d9c2b2"],[0.77,"#a39588"],[1,"#474747"]]
fig.add_trace(go.Scatter(x=e_rich, y=list(range(15)), mode="markers",
    marker=dict(size=[e_size_by_count[c] for c in e_count], color=e_pval, cmin=0, cmax=0.196, colorscale=e_scale,
                opacity=1, line=dict(width=0),
                colorbar=dict(x=1853/W, xanchor="left", y=1-1038/H, yanchor="top", len=144, lenmode="pixels",
                              thickness=28.6, thicknessmode="pixels", xpad=0, ypad=0, outlinewidth=0,
                              tickvals=[0.05,0.10,0.15], showticklabels=False, ticks="inside",
                              tickcolor="white", ticklen=6, tickwidth=1.5)), **ax))
for t, y in zip(["0.15","0.10","0.05"], [1072,1109,1145]):
    T(1892, y, t, 29, anchor="left")
T(1599, 648, "KEGG Enrichment Scatter Plot", 33)
T(1599, 1370, "Rich factor", 33)
T(1890, 809, "Count", 33)
T(1898, 1010, "p Value", 32.5)
for c, y, d in zip([2,3,4,5], [847,877,914.5,957], [20,29,34.5,39]):
    circ(1871, y, d/2, line="#222222", w=2.2)
    T(1917, y, str(c), 27)

# ---------- f ----------
ax = axes(98.7, 889, 1527, 1812.7, [-0.514,8.32], [0,1.5], framed=False,
          xopt=dict(tickvals=list(range(9)), ticktext=["<i>%s</i>" % g for g in f_genes], tickangle=-45,
                    tickfont=dict(size=22, color=INK, family=FONT), ticklen=9),
          yopt=dict(tickvals=[0,0.5,1.0,1.5], ticktext=["0.0","0.5","1.0","1.5"], ticklen=8,
                    tickfont=dict(size=21, color=INK, family=FONT)))
idx = list(range(9))
OFF = 0.183
fig.add_trace(go.Bar(x=[i-OFF for i in idx], y=f_ctrl, width=0.246, marker=dict(color="#C4C4FF", line=dict(color="black", width=2.5)),
                     error_y=dict(type="data", array=f_ctrl_err, color="black", thickness=2.5, width=7), **ax))
fig.add_trace(go.Bar(x=[i+OFF for i in idx], y=f_sh, width=0.246, marker=dict(color="#FFE0E0", line=dict(color="black", width=2.5)),
                     error_y=dict(type="data", array=f_sh_err, color="black", thickness=2.5, width=7), **ax))
def triple(center_list, vals, spread):
    xs, ys = [], []
    for c, v, sp in zip(center_list, vals, spread):
        for dx, yv in zip([-sp,0,sp], v):
            xs.append(c+dx); ys.append(yv)
    return xs, ys
cx, cy = triple([i-OFF for i in idx], f_ctrl_dots, [0.09]*9)
sx, sy = triple([i+OFF for i in idx], f_sh_dots, [0.09,0,0.09,0.09,0.09,0.09,0.09,0,0])
fig.add_trace(go.Scatter(x=cx+sx, y=cy+sy, mode="markers", marker=dict(color="white", size=8.5, line=dict(color="black", width=1.8)), **ax))
xa = ax["xaxis"]; ya = ax["yaxis"]
for i, st, y in zip(idx, f_stars, f_star_y):
    if st:
        annos.append(dict(x=i+OFF, y=y, xref=xa, yref=ya, text=st, showarrow=False, yanchor="bottom",
                          font=dict(size=22, color="black", family=FONT), borderpad=0))
T(24, 1671, "Relative level of mRNA", 22, angle=-90)
T(505, 1521, "HepG2-HBV1.3", 27.5)
box(152, 1524.5, 180, 1537.5, "#C4C4FF")
box(152, 1561, 180, 1574, "#FFE0E0")
T(198.6, 1531, "shControl", 24, anchor="left")
T(198.6, 1567, "shYTHDF2", 24, anchor="left")

# ---------- g ----------
def track(l, r, t, b, ymax):
    return axes(l, r, t, b, [0,100], [0,ymax], lw=2.5, xopt=dict(ticks="", showticklabels=False, linecolor="black"),
                yopt=dict(ticks="", showticklabels=False, linecolor="black"))
def fill(ax, x, y, color):
    fig.add_trace(go.Scatter(x=x, y=y, mode="lines", line=dict(width=0), fill="tozeroy", fillcolor=color, **ax))
BLUE = "#0000A0"; RED = "#FF0000"; REDA = "rgba(255,0,0,0.72)"
tops = [1484,1597.3,1710.7,1824.3]
for (l, r, ymax, ix, iy, px, py, tag) in [(1072.3,1427.8,200,mcm2_input_x,mcm2_input_y,mcm2_ip_x,mcm2_ip_y,"[0-200]"),
                                          (1606,1961.7,250,mcm5_input_x,mcm5_input_y,mcm5_ip_x,mcm5_ip_y,"[0-250]")]:
    a1 = track(l, r, tops[0], tops[1], ymax); fill(a1, ix, iy, BLUE)
    a2 = track(l, r, tops[1]+2.5, tops[2], ymax); fill(a2, px, py, RED)
    a3 = track(l, r, tops[2]+2.5, tops[3], ymax); fill(a3, ix, iy, BLUE); fill(a3, px, py, REDA)
    for y, in [(1501,),(1613,),(1726,)]:
        T(l+4, y, tag, 22, anchor="left")
GCOL = "#0000A8"
for (l, r, utr, exons) in [(1072.3,1427.8,mcm2_utr,mcm2_exons),(1606,1961.7,mcm5_utr,mcm5_exons)]:
    ga = axes(l, r, 1834, 1862, [0,100], [0,1], xopt=dict(visible=False), yopt=dict(visible=False))
    fig.add_trace(go.Scatter(x=[0,100], y=[0.5,0.5], mode="lines", line=dict(color="#3344CC", width=1.8), **ga))
    fig.add_trace(go.Scatter(x=utr, y=[0.5,0.5], mode="lines", line=dict(color=GCOL, width=9.5), **ga))
    ex, ey = [], []
    for j in range(0, len(exons), 2):
        ex += [exons[j], exons[j+1], None]; ey += [0.5,0.5,None]
    fig.add_trace(go.Scatter(x=ex, y=ey, mode="lines", line=dict(color=GCOL, width=16), **ga))
for base, (xs) in [(0,(995,997,995,1002,1004,1250)),(1,(1527.5,1531,1529.6,1536,1537.7,1784))]:
    T(xs[0], 1499, "m<sup>6</sup>A Input", 29)
    T(xs[1], 1613, "m<sup>6</sup>A IP", 29)
    T(xs[2], 1724, "Overlay", 30)
    T(xs[3], 1837, "RefSeq", 30)
    T(xs[4], 1866, "Gene", 30)
    T(xs[5], 1882, "<i>%s</i>" % ("MCM2" if base == 0 else "MCM5"), 27)

# ---------- h ----------
ax = axes(153.8, 612.6, 2050.7, 2372, [-0.575,5.76], [0,15], framed=False,
          xopt=dict(tickvals=[1,4.17], ticktext=["<i>%s</i>" % g for g in h_groups], ticklen=9,
                    tickfont=dict(size=27, color=INK, family=FONT)),
          yopt=dict(tickvals=[0,5,10,15], ticklen=9, tickfont=dict(size=25, color=INK, family=FONT)))
fig.add_trace(go.Bar(x=h_pos, y=h_vals, width=0.635, marker=dict(color=h_colors*2, line=dict(color="black", width=3)),
                     error_y=dict(type="data", array=h_err, color="black", thickness=3, width=12), **ax))
hx, hy = [], []
for p, v, d in zip(h_pos, h_dots, h_dot_dx):
    for dx, yv in zip(d, v):
        hx.append(p+dx); hy.append(yv)
fig.add_trace(go.Scatter(x=hx, y=hy, mode="markers", cliponaxis=False, marker=dict(color="white", size=13, line=dict(color="black", width=2)), **ax))
xa = ax["xaxis"]; ya = ax["yaxis"]
for (x0, x1, ytop, ybot, st) in [(0,0.96,13.55,13.1,"***"),(1.08,2.0,13.55,13.1,"**"),(3.17,4.11,8.05,7.65,"**"),(4.22,5.17,8.05,7.65,"*")]:
    fig.add_trace(go.Scatter(x=[x0,x0,x1,x1], y=[ybot,ytop,ytop,ybot], mode="lines", line=dict(color="black", width=3), **ax))
    annos.append(dict(x=(x0+x1)/2, y=ytop, xref=xa, yref=ya, text=st, showarrow=False, yanchor="bottom",
                      font=dict(size=24, color="black", family=FONT), borderpad=0))
T(57, 2211, "Fold enrichment", 26, angle=-90)
T(92, 2211, "(% of Input)", 26, angle=-90)
T(390, 2028, "YTHDF2-RIP", 27)
for lab, col, y in zip(h_labels, h_colors, [2052.7,2085,2116.7]):
    box(559, y-7, 591, y+7, col, w=3)
    T(610, y, lab, 27, anchor="left")

# ---------- i ----------
def scatter_panel(l, r, xr, yr, yticks, pts, bx, by, fx, fy):
    ax = axes(l, r, 1971.7, 2420.4, xr, yr, xopt=dict(tickvals=[20,40,60,80], ticklen=6, ticklabelstandoff=-12),
              yopt=dict(tickvals=yticks, ticklen=6, ticklabelstandoff=-4))
    dots(ax, pts, "#333333", 8)
    region(ax, bx, by, "rgba(190,190,190,0.6)")
    fig.add_trace(go.Scatter(x=fx, y=fy, mode="lines", line=dict(color="#FF0000", width=7), **ax))
scatter_panel(851.4, 1313.2, [7.3,86.6], [-7.4,157.8], [0,30,60,90,120,150], i1_pts, i1_band_x, i1_band_y, i1_fit_x, i1_fit_y)
scatter_panel(1459.6, 1920.9, [7.45,86.5], [-5.9,126.1], [0,30,60,90,120], i2_pts, i2_band_x, i2_band_y, i2_fit_x, i2_fit_y)
T(1003.6, 1998, "<i>R</i>=0.58\u00a0\u00a0<i>P</i>=3.1e-45", 29)
T(1620, 1998, "<i>R</i>=0.48\u00a0\u00a0<i>P</i>=1.08e-25", 29)
T(1082, 2473, "TPM(YTHDF2)", 33)
T(1690.6, 2473, "TPM(YTHDF2)", 33)
T(787, 2196, "TPM(MCM2)", 33, angle=-90)
T(1396, 2196, "TPM(MCM5)", 33, angle=-90)

fig.update_layout(width=W, height=H, margin=dict(l=0, r=0, t=0, b=0, autoexpand=False), showlegend=False,
                  paper_bgcolor="white", plot_bgcolor="rgba(0,0,0,0)", barmode="overlay",
                  font=dict(family=FONT, color=INK), annotations=annos, shapes=shapes, **layout_axes)
fig.update_traces(hoverinfo="skip")
fig.write_html("out.html", config={"displayModeBar": False},
               post_script="document.body.style.margin='0';document.documentElement.style.overflow='hidden';")
